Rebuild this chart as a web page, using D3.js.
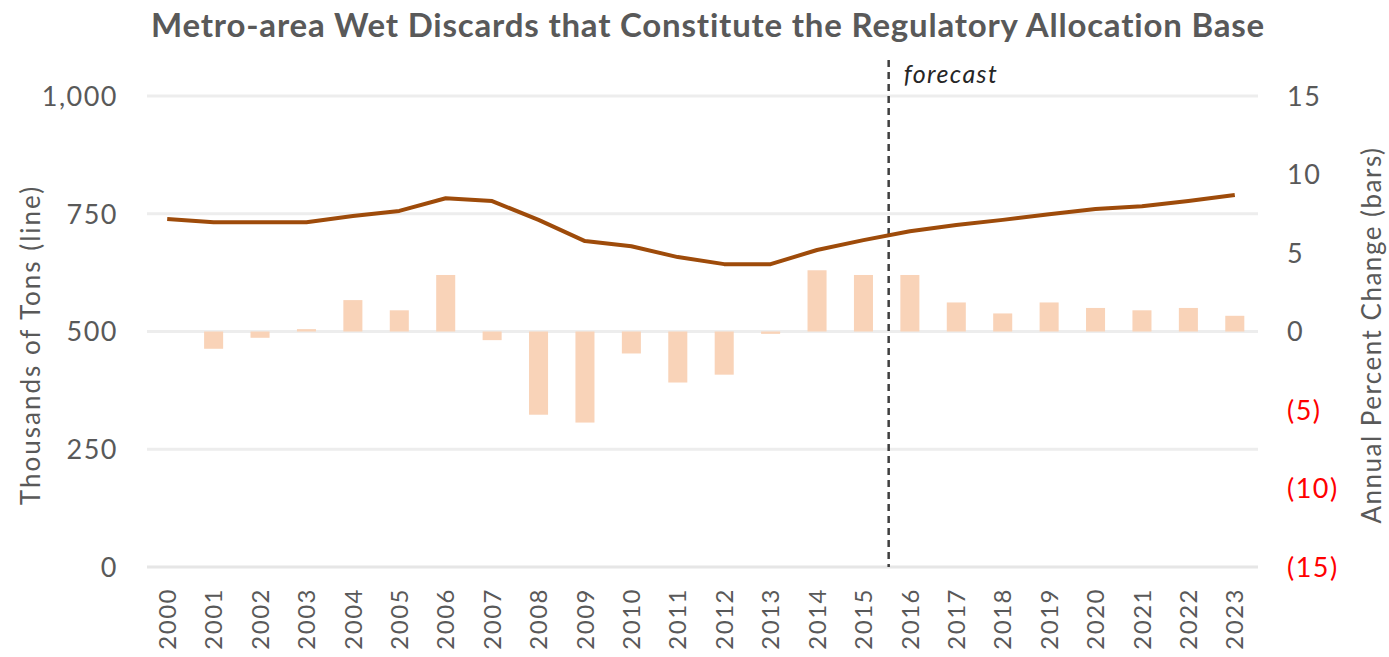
<!DOCTYPE html>
<html>
<head>
<meta charset="utf-8">
<script src="https://cdn.jsdelivr.net/npm/d3@7/dist/d3.min.js"></script>
<style>
  body { margin: 0; background: #fff; }
  svg { display: block; }
  text { font-family: Lato, "Open Sans", sans-serif; }
</style>
</head>
<body>
<svg id="chart" width="1389" height="657"></svg>
<script>
// Calendar years on the category axis
const years = ["2000","2001","2002","2003","2004","2005","2006","2007","2008","2009","2010","2011",
               "2012","2013","2014","2015","2016","2017","2018","2019","2020","2021","2022","2023"];
// Wet discards, thousands of tons (line, left axis)
const tonsThousands = [739, 732, 732, 732, 745, 756, 783, 777, 737, 692, 681, 658,
                       643, 643, 673, 694, 713, 726, 737, 749, 760, 766, 777, 790];
// Annual percent change (bars, right axis)
const pctChange = [0, -1.1, -0.4, 0.15, 2.0, 1.35, 3.6, -0.55, -5.3, -5.8, -1.4, -3.25,
                   -2.75, -0.15, 3.9, 3.6, 3.6, 1.85, 1.15, 1.85, 1.5, 1.35, 1.5, 1.0];
const leftTicks = [0, 250, 500, 750, 1000];
const rightTicks = [15, 10, 5, 0, -5, -10, -15];
const firstForecastYear = "2016";
const titleText = "Metro-area Wet Discards that Constitute the Regulatory Allocation Base";

const svg = d3.select("#chart");
const plot = { left: 144, right: 1258, top: 96, bottom: 567 };

const x = d3.scaleBand().domain(years).range([plot.left, plot.right])
  .paddingInner(0.59).paddingOuter(0.295);
const yL = d3.scaleLinear().domain([0, 1000]).range([plot.bottom, plot.top]);
const yR = d3.scaleLinear().domain([-15, 15]).range([plot.bottom, plot.top]);
const cx = d => x(d) + x.bandwidth() / 2;

const grey = "#595959";

// Title
svg.append("text")
  .attr("x", 708).attr("y", 37)
  .attr("text-anchor", "middle")
  .attr("font-size", 33).attr("font-weight", 700)
  .attr("letter-spacing", 0.8)
  .attr("fill", grey)
  .text(titleText);

// Horizontal gridlines from the left axis ticks
svg.append("g")
  .selectAll("line").data(leftTicks.filter(t => t > 0)).join("line")
  .attr("x1", plot.left + 3).attr("x2", plot.right)
  .attr("y1", d => yL(d)).attr("y2", d => yL(d))
  .attr("stroke", "#ededed").attr("stroke-width", 3);

// Left axis
const leftAxis = d3.axisLeft(yL).tickValues(leftTicks).tickSize(0).tickPadding(0)
  .tickFormat(d3.format(","));
const gL = svg.append("g").attr("transform", `translate(${118},0)`).call(leftAxis);
gL.select(".domain").remove();
gL.selectAll("text").attr("font-size", 27).attr("letter-spacing", 1.5)
  .attr("fill", grey).attr("dy", "0.35em");

// Right axis, negatives shown in red parentheses
const fmtR = d => d < 0 ? `(${Math.abs(d)})` : `${d}`;
const rightAxis = d3.axisRight(yR).tickValues(rightTicks).tickSize(0).tickPadding(0).tickFormat(fmtR);
const gR = svg.append("g").attr("transform", `translate(${1287},0)`).call(rightAxis);
gR.select(".domain").remove();
gR.selectAll("text").attr("font-size", 27).attr("letter-spacing", 1.5).attr("dy", "0.35em")
  .attr("fill", d => d < 0 ? "#ff0000" : grey);

// Bars: annual percent change
svg.append("g")
  .selectAll("rect").data(years).join("rect")
  .attr("x", d => x(d))
  .attr("width", x.bandwidth())
  .attr("y", (d, i) => yR(Math.max(0, pctChange[i])))
  .attr("height", (d, i) => Math.abs(yR(pctChange[i]) - yR(0)))
  .attr("fill", "#f9d3b8");

// Category axis baseline and labels
svg.append("line")
  .attr("x1", plot.left + 3).attr("x2", plot.right)
  .attr("y1", plot.bottom).attr("y2", plot.bottom)
  .attr("stroke", "#e6e6e6").attr("stroke-width", 3);

svg.append("g")
  .selectAll("text").data(years).join("text")
  .attr("transform", d => `translate(${cx(d)},${588}) rotate(-90)`)
  .attr("text-anchor", "end")
  .attr("dy", "0.36em")
  .attr("font-size", 24)
  .attr("letter-spacing", 1.5)
  .attr("fill", grey)
  .text(d => d);

// Forecast divider
const idx = years.indexOf(firstForecastYear);
const divX = (cx(years[idx - 1]) + cx(years[idx])) / 2 + 2;
svg.append("line")
  .attr("x1", divX).attr("x2", divX)
  .attr("y1", 60).attr("y2", plot.bottom)
  .attr("stroke", "#3f3f3f").attr("stroke-width", 2.5)
  .attr("stroke-dasharray", "7,5");
svg.append("text")
  .attr("x", divX + 15).attr("y", 83)
  .attr("font-size", 25).attr("font-style", "italic")
  .attr("letter-spacing", 1.4)
  .attr("fill", "#262626")
  .text("forecast");

// Line: thousands of tons
const line = d3.line().x((d, i) => cx(years[i])).y(d => yL(d));
svg.append("path")
  .datum(tonsThousands)
  .attr("d", line)
  .attr("fill", "none")
  .attr("stroke", "#9e4b0a")
  .attr("stroke-width", 4)
  .attr("stroke-linejoin", "round");

// Axis titles
svg.append("text")
  .attr("transform", `translate(${40},${345}) rotate(-90)`)
  .attr("text-anchor", "middle")
  .attr("font-size", 26).attr("letter-spacing", 2).attr("fill", grey)
  .text("Thousands of Tons (line)");
svg.append("text")
  .attr("transform", `translate(${1381},${335}) rotate(-90)`)
  .attr("text-anchor", "middle")
  .attr("font-size", 26).attr("letter-spacing", 1.5).attr("fill", grey)
  .text("Annual Percent Change (bars)");
</script>
</body>
</html>
